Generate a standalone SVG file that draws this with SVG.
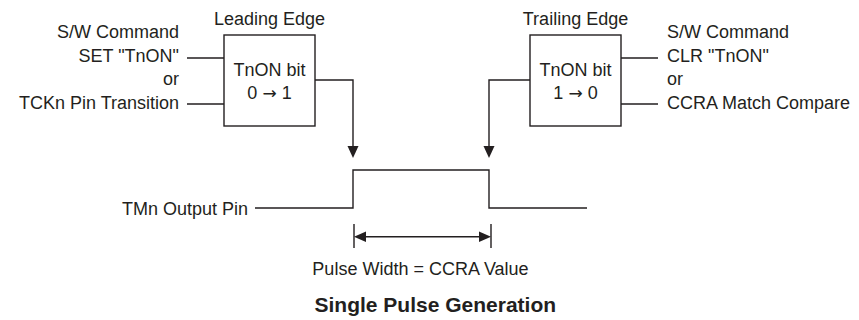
<svg xmlns="http://www.w3.org/2000/svg" width="859" height="320" viewBox="0 0 859 320">
<style>
text{font-family:"Liberation Sans",Arial,sans-serif;font-size:18px;fill:#231f20}
.r{text-anchor:end}
.m{text-anchor:middle}
.t{font-weight:bold;font-size:21px;text-anchor:middle}
.arr{font-family:"DejaVu Sans",sans-serif;font-size:17px}
.ln{fill:none;stroke:#231f20;stroke-width:1.4}
.box{fill:#fff;stroke:#231f20;stroke-width:1.4}
.ah{fill:#231f20;stroke:none}
</style>
<rect width="859" height="320" fill="#fff"/>
<g id="leading-inputs">
<text class="r" x="179" y="38">S/W Command</text>
<text class="r" x="179" y="61.5">SET "TnON"</text>
<text class="r" x="179" y="85">or</text>
<text class="r" x="179" y="108.5">TCKn Pin Transition</text>
</g>
<g id="leading-edge">
<text class="m" x="269.5" y="24.5">Leading Edge</text>
<rect class="box" x="224" y="35" width="91" height="91"/>
<text class="m" x="269.5" y="76">TnON bit</text>
<text class="m" x="269.5" y="99">0 <tspan class="arr">→</tspan> 1</text>
</g>
<g id="trailing-edge">
<text class="m" x="575.5" y="24.5">Trailing Edge</text>
<rect class="box" x="530" y="35" width="91" height="91"/>
<text class="m" x="575.5" y="76">TnON bit</text>
<text class="m" x="575.5" y="99">1 <tspan class="arr">→</tspan> 0</text>
</g>
<g id="trailing-inputs">
<text x="667" y="38">S/W Command</text>
<text x="667" y="61.5">CLR "TnON"</text>
<text x="667" y="85">or</text>
<text x="667" y="108.5">CCRA Match Compare</text>
</g>
<g id="output-pin">
<text class="r" x="248" y="214.5">TMn Output Pin</text>
<path class="ln" d="M255,208 H353 V170 H489 V208 H587"/>
</g>
<g id="connectors">
<path class="ln" d="M187,58 H224 M187,104 H224"/>
<path class="ln" d="M621,58 H658 M621,104 H658"/>
<path class="ln" d="M315,80 H353 V147"/>
<path class="ah" d="M347.5,146 L358.5,146 L353,158 Z"/>
<path class="ln" d="M530,80 H489 V147"/>
<path class="ah" d="M483.5,146 L494.5,146 L489,158 Z"/>
</g>
<g id="pulse-width">
<path class="ln" d="M354,224 V248 M491,224 V248 M365,236.7 H480"/>
<path class="ah" d="M354,236.7 L366,231.5 L366,242 Z"/>
<path class="ah" d="M491,236.7 L479,231.5 L479,242 Z"/>
<text class="m" x="420.5" y="275">Pulse Width = CCRA Value</text>
</g>
<text class="t" x="435.3" y="312">Single Pulse Generation</text>
</svg>
